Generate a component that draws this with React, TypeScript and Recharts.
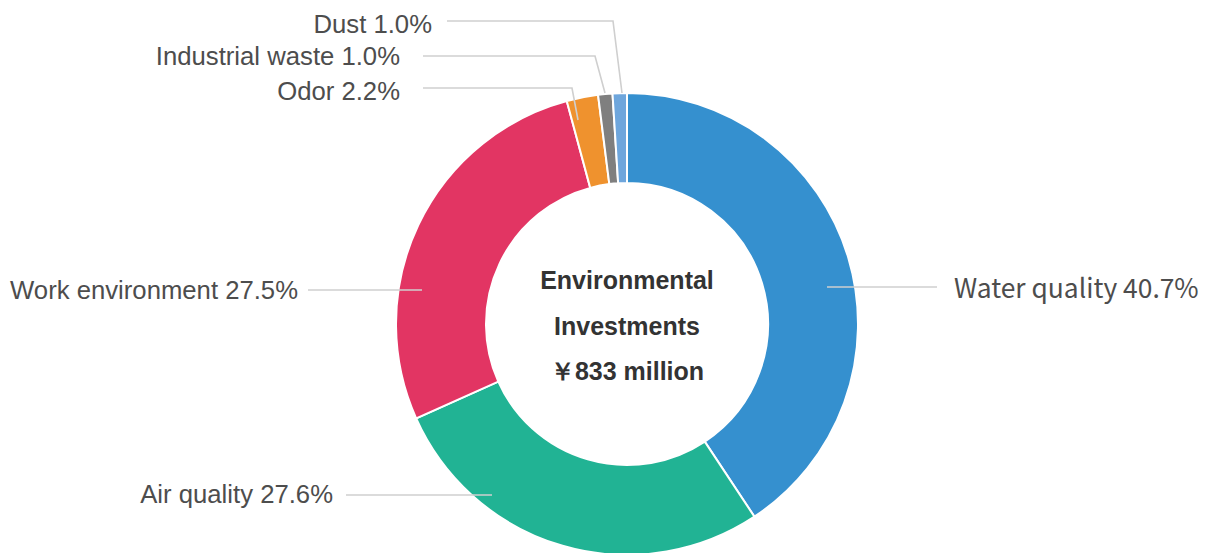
import { PieChart, Pie, Cell } from "recharts";

const categories = [
  "Water quality",
  "Air quality",
  "Work environment",
  "Odor",
  "Industrial waste",
  "Dust",
];
const shares = [40.7, 27.6, 27.5, 2.2, 1.0, 1.0];
const colors = ["#3590cf", "#21b394", "#e23563", "#ef922e", "#7f7f7f", "#6ea6dc"];
const centerLines = ["Environmental", "Investments", "￥833 million"];

const data = categories.map((name, i) => ({ name, value: shares[i] }));

// label leader lines, offsets from the pie centre
// end = point on the ring, elbow = optional bend, tail = where the line stops, tx/ty = text anchor
const labelLayout = [
  { end: [200, -37], tail: [310, -37], tx: 327, ty: -36, anchor: "start", font: "'Noto Sans CJK JP'", size: 26.4 },
  { end: [-135, 171], tail: [-281, 171], tx: -294, ty: 170, anchor: "end" },
  { end: [-205, -34], tail: [-319, -34], tx: -329, ty: -34, anchor: "end" },
  { end: [-49, -204], elbow: [-55, -236], tail: [-204, -236], tx: -227, ty: -233, anchor: "end" },
  { end: [-22, -231], elbow: [-32, -268], tail: [-204, -268], tx: -227, ty: -268, anchor: "end" },
  { end: [-5, -231], elbow: [-14, -303], tail: [-180, -303], tx: -195, ty: -300, anchor: "end" },
];

const CX = 627;
const CY = 324;

const renderLabel = (props: any) => {
  const { index } = props;
  const cx = props.cx ?? CX;
  const cy = props.cy ?? CY;
  const l = labelLayout[index];
  const pts = [l.end, ...(l.elbow ? [l.elbow] : []), l.tail]
    .map(([dx, dy]) => `${cx + dx},${cy + dy}`)
    .join(" ");
  return (
    <g key={`lbl-${index}`}>
      <polyline points={pts} fill="none" stroke="#cfcfcf" strokeWidth={1.6} />
      <text
        x={cx + l.tx}
        y={cy + l.ty}
        dy="0.36em"
        textAnchor={l.anchor}
        fontFamily={l.font ?? "'Liberation Sans', Arial, sans-serif"}
        fontSize={l.size ?? 25.7}
        fill="#4d4d4d"
      >
        {`${categories[index]} ${shares[index].toFixed(1)}%`}
      </text>
      {index === 0 &&
        centerLines.map((t, k) => (
          <text
            key={t}
            x={cx}
            y={cy - 44 + k * 45.5}
            dy="0.36em"
            textAnchor="middle"
            fontFamily="'Liberation Sans', Arial, sans-serif"
            fontWeight="bold"
            fontSize={25}
            fill="#333333"
          >
            {t}
          </text>
        ))}
    </g>
  );
};

export default function App() {
  return (
    <div style={{ width: 1212, height: 553, background: "#fff" }}>
      <style>{`body{margin:0}`}</style>
      <PieChart width={1212} height={553} margin={{ top: 0, right: 0, bottom: 0, left: 0 }}>
        <Pie
          data={data}
          dataKey="value"
          nameKey="name"
          cx={CX}
          cy={CY}
          innerRadius={141}
          outerRadius={231}
          startAngle={90}
          endAngle={-270}
          stroke="#ffffff"
          strokeWidth={2}
          label={renderLabel}
          labelLine={false}
          isAnimationActive={false}
        >
          {data.map((d, i) => (
            <Cell key={d.name} fill={colors[i]} />
          ))}
        </Pie>
      </PieChart>
    </div>
  );
}
